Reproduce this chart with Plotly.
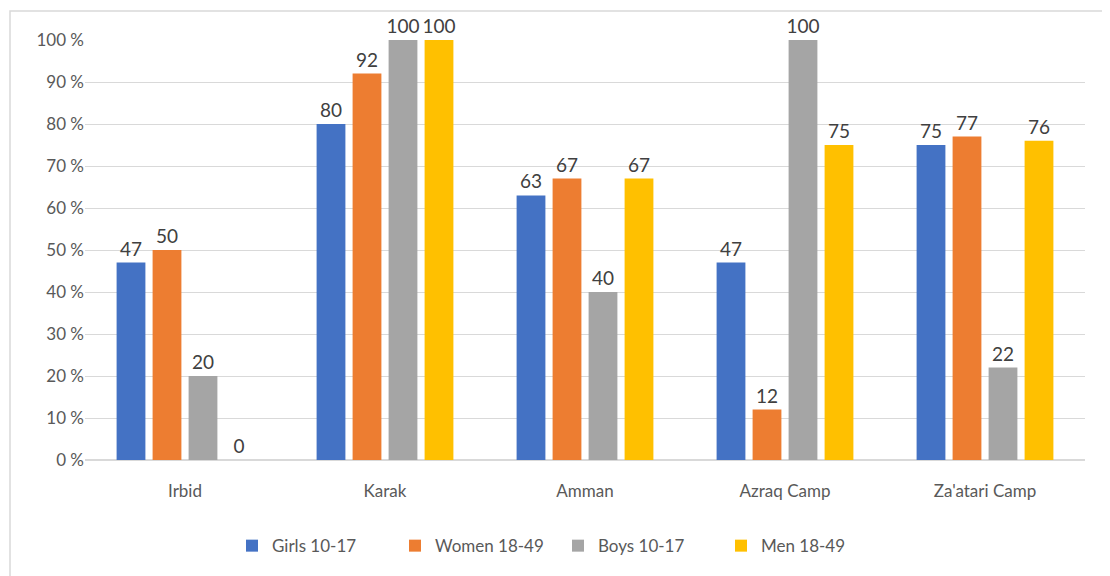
import plotly.graph_objects as go

categories = ["Irbid", "Karak", "Amman", "Azraq Camp", "Za'atari Camp"]
girls = [47, 80, 63, 47, 75]
women = [50, 92, 67, 12, 77]
boys = [20, 100, 40, 100, 22]
men = [0, 100, 67, 75, 76]

series = [
    ("Girls 10-17", girls, "#4472C4"),
    ("Women 18-49", women, "#ED7D31"),
    ("Boys 10-17", boys, "#A5A5A5"),
    ("Men 18-49", men, "#FFC000"),
]

font_family = "Lato, 'Open Sans', sans-serif"
text_color = "#595959"

fig = go.Figure()
for name, vals, color in series:
    fig.add_trace(go.Bar(
        x=categories,
        y=vals,
        name=name,
        marker=dict(color=color, line=dict(width=0)),
        text=[str(v) for v in vals],
        textposition="outside",
        constraintext="none",
        cliponaxis=False,
        textfont=dict(size=19, color="#404040", family=font_family),
    ))

# page body has an 8px margin, so margins are shifted to compensate
fig.update_layout(
    width=1110,
    height=576,
    margin=dict(l=77, r=33, t=32, b=124),
    paper_bgcolor="white",
    plot_bgcolor="white",
    barmode="group",
    bargap=0.28,
    bargroupgap=0.2,
    font=dict(family=font_family, color=text_color, size=17),
    showlegend=True,
    legend=dict(
        orientation="h",
        x=0.147,
        xanchor="left",
        y=-0.205,
        yanchor="middle",
        font=dict(size=17, color=text_color),
        entrywidth=118,
        entrywidthmode="pixels",
        traceorder="normal",
    ),
    xaxis=dict(
        showgrid=False,
        showline=False,
        ticks="",
        ticklabelstandoff=19,
        tickfont=dict(size=17, color=text_color),
    ),
    yaxis=dict(
        range=[0, 100],
        dtick=10,
        ticksuffix=" %",
        showgrid=True,
        gridcolor="#D9D9D9",
        gridwidth=1,
        zeroline=True,
        zerolinecolor="#D9D9D9",
        zerolinewidth=1.5,
        showline=False,
        ticks="",
        ticklabelstandoff=0,
        tickfont=dict(size=17, color=text_color),
    ),
    shapes=[
        dict(type="rect", xref="paper", yref="paper",
             x0=-0.075, x1=1.1, y0=-0.5, y1=1.069,
             line=dict(color="#D9D9D9", width=1.5), fillcolor="rgba(0,0,0,0)",
             layer="below"),
    ],
)

fig.write_html("out.html")
